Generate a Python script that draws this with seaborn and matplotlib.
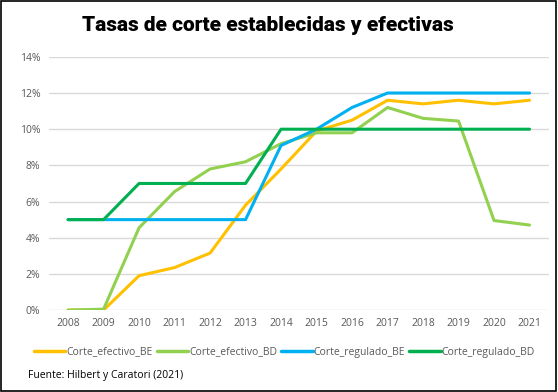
import pandas as pd
import matplotlib.pyplot as plt
import seaborn as sns
from matplotlib.ticker import PercentFormatter, MultipleLocator
from matplotlib.patches import Rectangle

years = list(range(2008, 2022))
corte_efectivo_be = [0.0, 0.0, 1.9, 2.35, 3.15, 5.8, 7.8, 9.9, 10.5, 11.6, 11.4, 11.6, 11.4, 11.6]
corte_efectivo_bd = [0.0, 0.05, 4.55, 6.55, 7.8, 8.2, 9.2, 9.8, 9.8, 11.2, 10.6, 10.45, 4.95, 4.7]
corte_regulado_be = [5, 5, 5, 5, 5, 5, 9.1, 10, 11.2, 12, 12, 12, 12, 12]
corte_regulado_bd = [5, 5, 7, 7, 7, 7, 10, 10, 10, 10, 10, 10, 10, 10]

series = ["Corte_efectivo_BE", "Corte_efectivo_BD", "Corte_regulado_BE", "Corte_regulado_BD"]
colors = ["#FFC000", "#92D050", "#00B0F0", "#00B050"]

df = pd.DataFrame({
    "year": years * 4,
    "valor": [v / 100 for v in corte_efectivo_be + corte_efectivo_bd + corte_regulado_be + corte_regulado_bd],
    "serie": [s for s in series for _ in years],
})

sns.set_style("white")
plt.rcParams["font.family"] = ["Open Sans", "DejaVu Sans"]

fig = plt.figure(figsize=(5.58, 3.92), dpi=100)
ax = fig.add_axes([0.087, 0.209, 0.897, 0.646])

sns.lineplot(data=df, x="year", y="valor", hue="serie", hue_order=series,
             palette=colors, linewidth=2.2, ax=ax, legend=False)

ax.set_ylim(0, 0.14)
ax.set_xlim(2007.45, 2021.55)
ax.yaxis.set_major_locator(MultipleLocator(0.02))
ax.yaxis.set_major_formatter(PercentFormatter(1, decimals=0))
ax.set_xticks(years)
ax.grid(axis="y", color="#D9D9D9", linewidth=1)
ax.set_axisbelow(True)
for s in ax.spines.values():
    s.set_visible(False)
ax.tick_params(axis="both", length=0, labelsize=7.5, labelcolor="#595959", pad=6)
ax.set_xlabel("")
ax.set_ylabel("")

handles = [plt.Line2D([], [], color=c, linewidth=2.5) for c in colors]
fig.legend(handles, series, loc="center", bbox_to_anchor=(0.51, 0.102), ncol=4, frameon=False,
           fontsize=7.5, labelcolor="#595959", handlelength=3, handletextpad=0.1, columnspacing=0.4)

fig.text(0.48, 0.935, "Tasas de corte establecidas y efectivas", ha="center", va="center",
         fontsize=15, fontweight="black", color="black", family=["Roboto", "DejaVu Sans"])
fig.text(0.05, 0.043, "Fuente: Hilbert y Caratori (2021)", fontsize=7.5, color="black", va="center")

fig.patches.append(Rectangle((0.002, 0.003), 0.995, 0.994, transform=fig.transFigure,
                             fill=False, edgecolor="black", linewidth=1.2))

fig.savefig("out.png", dpi=100)
